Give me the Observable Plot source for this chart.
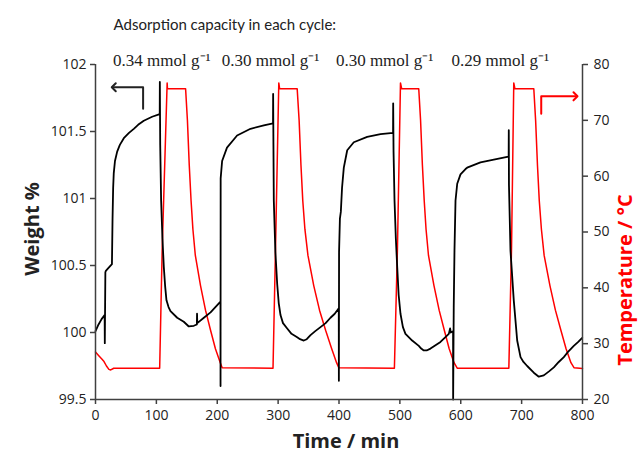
<!DOCTYPE html>
<html><head><meta charset="utf-8">
<script src="https://cdn.jsdelivr.net/npm/d3@7"></script>
<script src="https://cdn.jsdelivr.net/npm/@observablehq/plot@0.6"></script>
<style>body{margin:0;background:#fff} #chart{width:641px;height:457px}</style>
</head><body><div id="chart"></div>
<script>
// Weight % (black, left axis)
const weightTime = [0,5,10,15,15.3,16.2,17,21,27,28,29,30,32,35.6,40,46.5,55,62.9,70,79.3,93,105.5,105.7,106.3,107.8,110,112.2,114.5,116.6,120,123.2,134.2,145,153.3,161.5,166.5,166.8,167.2,178,189,205.3,
  205.4,205.6,208,216,232.6,254.6,276.5,291.6,291.8,292.3,292.9,295.5,298.5,301,303.9,308,314.9,322,331.3,336,342.2,347,353.2,361,369.6,378,386,393,399.6,
  399.8,400.1,401.5,403,405,407.9,413.5,424.3,446.3,468.2,488.8,489,489.6,491.2,493.4,495.6,498,501,505,509.2,520.2,531.1,535,539.3,544,550.3,566.7,580.4,582.5,583.5,587.4,
  587.5,588.5,589.7,591.4,594.2,599.6,607.8,610.5,632.4,654.3,676.3,678.7,678.9,679.2,681.7,687.1,692.7,698.2,703,709.1,720,728.2,736.4,745,752.9,761,769.3,777,785.7,793,799.5];
const weightValue = [100.01,100.06,100.10,100.13,99.92,100.45,100.46,100.48,100.51,100.85,101.08,101.19,101.28,101.35,101.40,101.45,101.49,101.52,101.55,101.58,101.61,101.63,101.87,101.4,100.985,100.70,100.49,100.34,100.24,100.19,100.16,100.11,100.08,100.045,100.05,100.06,100.14,100.07,100.11,100.15,100.23,
  99.6,101.15,101.28,101.38,101.47,101.52,101.545,101.56,101.78,101.4,100.985,100.6,100.36,100.22,100.13,100.07,100.03,99.99,99.965,99.95,99.94,99.95,99.98,100.01,100.04,100.07,100.11,100.14,100.18,
  99.64,100.6,100.85,100.9,101.08,101.23,101.36,101.42,101.46,101.48,101.49,101.71,101.35,100.985,100.7,100.49,100.28,100.14,100.04,99.99,99.94,99.90,99.88,99.866,99.866,99.88,99.93,99.99,100.03,100.0,100.01,
  99.5,100.2,100.61,100.985,101.11,101.18,101.22,101.23,101.27,101.29,101.31,101.31,101.51,101.1,100.61,100.24,99.94,99.816,99.78,99.75,99.70,99.67,99.68,99.71,99.74,99.78,99.816,99.86,99.90,99.93,99.96];

// Temperature °C (red, right axis)
const tempTime = [0,5,10,14,18,22,25,30,60,105.4,109.5,117.7,118.2,
  148,151,154,157,160,164,172.5,180.7,189,197,205,208.1,
  291.6,295.7,301.1,302.5,
  331.3,334.5,337.5,340.5,344,349,358.5,368,378,388,396,399.7,
  491,496,501,503,
  531,534,537,540,543,547,556,564.5,573,581,589,594.2,
  679,683.4,687.1,689,
  720,723,726,729,732.5,737,746.5,755.5,764.5,773,781,786,800];
const tempValue = [28.5,27.9,27.3,26.8,26.0,25.4,25.3,25.6,25.6,25.6,46.7,76.7,75.65,
  75.65,70,62,55.6,50.5,45.8,40.4,36,32.4,29.1,26.6,25.7,
  25.6,47,76.7,75.65,
  75.65,70,62,55.6,50.5,45.8,40.4,36,32.4,29.1,26.6,25.7,
  25.6,47,76.7,75.65,
  75.65,70,62,55.6,50.5,45.8,40.4,36,32.4,29.1,26.6,25.6,
  25.6,47,76.7,75.65,
  75.65,70,62,55.6,50.5,45.8,40.4,36,32.4,29.1,26.6,25.7,25.55];

const capacityLabels = ["0.34 mmol g\u207B\u00B9","0.30 mmol g\u207B\u00B9","0.30 mmol g\u207B\u00B9","0.29 mmol g\u207B\u00B9"];
const capacityTime = [109, 287.5, 475, 665];
const titleText = "Adsorption capacity in each cycle:";

const xTicks = [0,100,200,300,400,500,600,700,800];
const weightTicks = [99.5,100,100.5,101,101.5,102];
const tempTicks = [20,30,40,50,60,70,80];

// direction arrows (annotation)
const leftArrowTime = [78.2, 78.2, 30];
const leftArrowWeight = [101.67, 101.83, 101.83];
const rightArrowTime = [732.2, 732.2, 788.5];
const rightArrowTemp = [71.2, 74.3, 74.3];

const wMin = 99.5, wMax = 102, tMin = 20, tMax = 80;
const T2W = T => wMin + (T - tMin) / (tMax - tMin) * (wMax - wMin);
const W2T = w => tMin + (w - wMin) / (wMax - wMin) * (tMax - tMin);

const weight = weightTime.map((t, i) => ({t, w: weightValue[i]}));
const temp = tempTime.map((t, i) => ({t, w: T2W(tempValue[i])}));
const leftArrow = leftArrowTime.map((t, i) => ({t, w: leftArrowWeight[i]}));
const rightArrow = rightArrowTime.map((t, i) => ({t, w: T2W(rightArrowTemp[i])}));
const caps = capacityLabels.map((s, i) => ({s, t: capacityTime[i]}));

const axisColor = "#404040";
const plot = Plot.plot({
  width: 641, height: 457,
  marginTop: 64, marginRight: 59, marginBottom: 58, marginLeft: 95,
  style: {fontFamily: "'Open Sans', sans-serif", fontSize: "14px", color: "#222", background: "#fff"},
  x: {domain: [0, 800]},
  y: {domain: [wMin, wMax]},
  marks: [
    Plot.line(temp, {x: "t", y: "w", stroke: "#ff0000", strokeWidth: 1.5}),
    Plot.line(weight, {x: "t", y: "w", stroke: "#000", strokeWidth: 1.8}),
    Plot.ruleX([0, 800], {stroke: axisColor, strokeWidth: 1.5}),
    Plot.ruleY([wMin], {stroke: axisColor, strokeWidth: 1.5}),
    Plot.axisX({ticks: xTicks, tickSize: 5, tickPadding: 6, label: null, stroke: axisColor, strokeWidth: 1.5, fill: "#222"}),
    Plot.axisY({ticks: weightTicks, tickSize: 5, tickPadding: 4, label: null, tickFormat: d => String(d), stroke: axisColor, strokeWidth: 1.5, fill: "#222"}),
    Plot.axisY({anchor: "right", ticks: tempTicks.map(T2W), tickFormat: w => String(Math.round(W2T(w))), tickSize: 5, tickPadding: 6, label: null, stroke: axisColor, strokeWidth: 1.5, fill: "#222"}),
    Plot.line(leftArrow, {x: "t", y: "w", stroke: "#222", strokeWidth: 2, markerEnd: "arrow"}),
    Plot.line(rightArrow, {x: "t", y: "w", stroke: "#ff0000", strokeWidth: 2, markerEnd: "arrow"}),
    Plot.text(caps, {x: "t", text: "s", frameAnchor: "top", lineAnchor: "middle", dy: -4, fontFamily: "'Liberation Serif', serif", fontSize: 17, fill: "#222"}),
    Plot.text([titleText], {frameAnchor: "top-left", lineAnchor: "middle", dx: 18, dy: -39, textAnchor: "start", fontFamily: "Lato, sans-serif", fontSize: 15, fill: "#222"}),
    Plot.text(["Weight %"], {frameAnchor: "left", textAnchor: "middle", lineAnchor: "middle", dx: -63, dy: -3, rotate: -90, fontFamily: "'Open Sans', sans-serif", fontWeight: "bold", fontSize: 20, fill: "#222"}),
    Plot.text(["Temperature / \u00B0C"], {frameAnchor: "right", textAnchor: "middle", lineAnchor: "middle", dx: 43, dy: 48, rotate: -90, fontFamily: "'Open Sans', sans-serif", fontWeight: "bold", fontSize: 20, fill: "#ff0000"}),
    Plot.text(["Time / min"], {frameAnchor: "bottom", textAnchor: "middle", lineAnchor: "middle", dx: 7, dy: 42, fontFamily: "'Open Sans', sans-serif", fontWeight: "bold", fontSize: 20, fill: "#222"})
  ]
});
document.getElementById("chart").appendChild(plot);
</script>
</body></html>
